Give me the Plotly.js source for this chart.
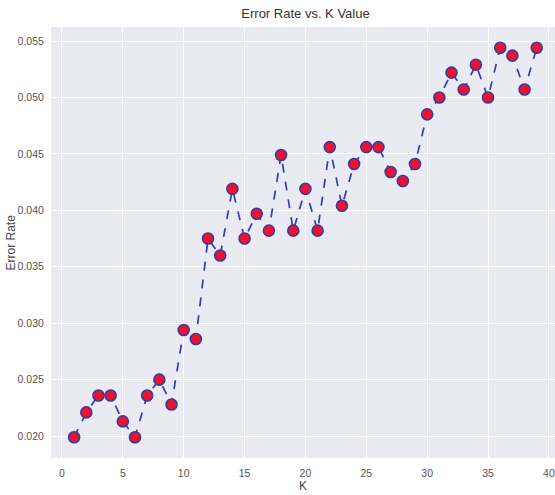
<!DOCTYPE html>
<html>
<head>
<meta charset="utf-8">
<script src="https://cdn.plot.ly/plotly-3.0.1.min.js"></script>
<style>html,body{margin:0;padding:0;overflow:hidden;background:#fff}</style>
</head>
<body>
<div id="chart" style="width:555px;height:495px"></div>
<script>
const kValues = [1,2,3,4,5,6,7,8,9,10,11,12,13,14,15,16,17,18,19,20,21,22,23,24,25,26,27,28,29,30,31,32,33,34,35,36,37,38,39];
const errorRate = [0.0199,0.0221,0.0236,0.0236,0.0213,0.0199,0.0236,0.0250,0.0228,0.0294,
                   0.0286,0.0375,0.0360,0.0419,0.0375,0.0397,0.0382,0.0449,0.0382,0.0419,
                   0.0382,0.0456,0.0404,0.0441,0.0456,0.0456,0.0434,0.0426,0.0441,0.0485,
                   0.0500,0.0522,0.0507,0.0529,0.0500,0.0544,0.0537,0.0507,0.0544];
const xTicks = [0,5,10,15,20,25,30,35,40];
const yTicks = [0.020,0.025,0.030,0.035,0.040,0.045,0.050,0.055];
const yTickText = ['0.020','0.025','0.030','0.035','0.040','0.045','0.050','0.055'];

const font = "'Liberation Sans Narrow', 'Liberation Sans', Arial, sans-serif";

Plotly.newPlot('chart', [{
  x: kValues, y: errorRate, type: 'scatter', mode: 'lines+markers',
  line: {color: '#2f3fb0', width: 1.7, dash: 'dash'},
  marker: {color: '#ee1230', size: 11, line: {color: '#3a3a9c', width: 1.6}},
  cliponaxis: false
}], {
  width: 555, height: 495,
  margin: {l: 51, r: 0, t: 27, b: 37},
  paper_bgcolor: '#ffffff', plot_bgcolor: '#EAEAF2',
  showlegend: false,
  title: {text: 'Error Rate vs. K Value', font: {family: font, size: 13, color: '#333'},
          x: 305.5 / 555, xref: 'container', y: 0.972, yref: 'container', yanchor: 'middle'},
  xaxis: {range: [-0.9, 40.5], tickvals: xTicks, showgrid: true, gridcolor: '#ffffff', gridwidth: 1,
          zeroline: false, showline: false, ticks: 'outside', ticklen: 5, tickcolor: 'rgba(0,0,0,0)',
          ticklabeloverflow: 'allow',
          tickfont: {family: font, size: 10.5, color: '#555'},
          title: {text: 'K', font: {family: font, size: 12, color: '#444'}, standoff: 4}},
  yaxis: {range: [0.01806, 0.05624], tickvals: yTicks, ticktext: yTickText, showgrid: true, gridcolor: '#ffffff', gridwidth: 1,
          zeroline: false, showline: false, ticks: 'outside', ticklen: 4, tickcolor: 'rgba(0,0,0,0)',
          tickfont: {family: font, size: 10.5, color: '#555'}},
  annotations: [{text: 'Error Rate', xref: 'paper', yref: 'paper', x: -41 / 504, y: 0.5,
                 xanchor: 'center', yanchor: 'middle', textangle: -90, showarrow: false,
                 font: {family: font, size: 12, color: '#444'}}]
}, {displayModeBar: false, staticPlot: true});
</script>
</body>
</html>
